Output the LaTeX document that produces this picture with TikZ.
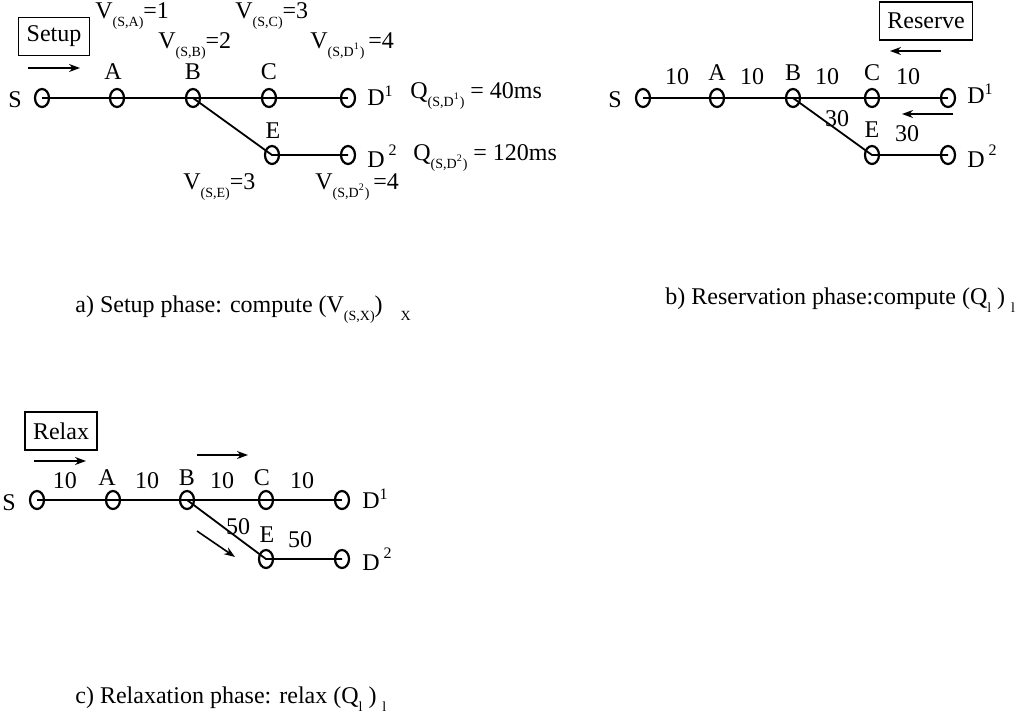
\documentclass[tikz,border=0pt]{standalone}
\usepackage{fontspec}
\setmainfont{Liberation Serif}
\usetikzlibrary{shapes.geometric, arrows.meta, positioning}
\newcommand{\lowidx}[1]{\raisebox{-4pt}{\scriptsize #1}}
\newcommand{\upidx}[1]{\raisebox{6pt}{\footnotesize #1}}

\begin{document}
\begin{tikzpicture}[
    x=0.5pt, y=-0.5pt,
    every node/.style={font=\fontsize{12}{14}\selectfont, inner sep=0pt},
    hop/.style={ellipse, draw, line width=1.1pt, minimum width=7pt, minimum height=9pt},
    phase/.style={draw, line width=0.6pt, inner xsep=4pt, minimum height=19pt},
    link/.style={line width=0.9pt},
    flow/.style={line width=0.8pt, -{Stealth[length=5.5pt, width=4pt]}},
    val/.style={anchor=base west},
    caption/.style={anchor=base west}
]
\useasboundingbox (0,0) rectangle (1029,723);

% a) Setup phase
\node[phase] (setupbox) at (54,36.5) {Setup};
\coordinate (setup0) at (28,68);
\coordinate (setup1) at (80,68);
\draw[flow] (setup0) -- (setup1);

\node (aSl) at (15,100) {S};
\node[hop] (aS) at (42,98) {};
\node[hop] (aA) at (117,98) {};
\node[hop] (aB) at (193,98) {};
\node[hop] (aC) at (269,98) {};
\node[hop] (aD1) at (348,98) {};
\node[hop] (aE) at (272,155) {};
\node[hop] (aD2) at (348,155) {};

\draw[link] (aS.center) -- (aA.center) -- (aB.center) -- (aC.center) -- (aD1.center);
\draw[link] (aB.center) -- (aE.center) -- (aD2.center);

\node (aAl) at (113,72) {A};
\node (aBl) at (193,72) {B};
\node (aCl) at (269,72) {C};
\node (aEl) at (273,131) {E};
\node[val] (aD1l) at (367,105) {D\textsuperscript{1}};
\node[val] (aD2l) at (367,167) {D\,\upidx{2}};

\node[val] (vA) at (95,18) {V\lowidx{(S,A)}=1};
\node[val] (vB) at (158,48) {V\lowidx{(S,B)}=2};
\node[val] (vC) at (235,18) {V\lowidx{(S,C)}=3};
\node[val] (vD1) at (310,48) {V\lowidx{(S,D\textsuperscript{1})}\,=4};
\node[val] (vE) at (183,189) {V\lowidx{(S,E)}=3};
\node[val] (vD2) at (315,189) {V\lowidx{(S,D\textsuperscript{2})}\,=4};

\node[val] (qD1) at (410,98) {Q\lowidx{(S,D\textsuperscript{1})} = 40ms};
\node[val] (qD2) at (413,160) {Q\lowidx{(S,D\textsuperscript{2})} = 120ms};

\node[caption] (capa) at (75,312) {a) Setup phase: compute (V\lowidx{(S,X)})\hspace{9pt}\lowidx{X}};

% b) Reservation phase
\node[phase] (reservebox) at (926,21) {Reserve};
\coordinate (res0) at (941,51);
\coordinate (res1) at (890,51);
\draw[flow] (res0) -- (res1);
\coordinate (res2) at (953,114);
\coordinate (res3) at (902,114);
\draw[flow] (res2) -- (res3);

\node (bSl) at (615,100) {S};
\node[hop] (bS) at (643,98) {};
\node[hop] (bA) at (717,98) {};
\node[hop] (bB) at (793,98) {};
\node[hop] (bC) at (872,98) {};
\node[hop] (bD1) at (948,98) {};
\node[hop] (bE) at (872,155) {};
\node[hop] (bD2) at (948,155) {};

\draw[link] (bS.center) -- (bA.center) -- (bB.center) -- (bC.center) -- (bD1.center);
\draw[link] (bB.center) -- (bE.center) -- (bD2.center);

\node (bAl) at (717,73) {A};
\node (bBl) at (793,73) {B};
\node (bCl) at (872,73) {C};
\node (bEl) at (872,130) {E};
\node (bSA) at (677,77) {10};
\node (bAB) at (752,77) {10};
\node (bBC) at (827,77) {10};
\node (bCD) at (908,77) {10};
\node (bBE) at (837,119) {30};
\node (bED) at (907,134) {30};
\node[val] (bD1l) at (967,103) {D\textsuperscript{1}};
\node[val] (bD2l) at (967,167) {D\,\upidx{2}};

\node[caption] (capb) at (665,304) {b) Reservation phase:compute (Q\lowidx{l}~)~\lowidx{l}};

% c) Relaxation phase
\node[phase] (relaxbox) at (61,431) {Relax};
\coordinate (rel0) at (34,461);
\coordinate (rel1) at (86,461);
\draw[flow] (rel0) -- (rel1);
\coordinate (rel2) at (197,455);
\coordinate (rel3) at (248,455);
\draw[flow] (rel2) -- (rel3);
\coordinate (rel4) at (197,531);
\coordinate (rel5) at (235,557);
\draw[flow] (rel4) -- (rel5);

\node (cSl) at (9,503) {S};
\node[hop] (cS) at (37,500) {};
\node[hop] (cA) at (113,500) {};
\node[hop] (cB) at (187,500) {};
\node[hop] (cC) at (266,500) {};
\node[hop] (cD1) at (342,500) {};
\node[hop] (cE) at (266,559) {};
\node[hop] (cD2) at (342,559) {};

\draw[link] (cS.center) -- (cA.center) -- (cB.center) -- (cC.center) -- (cD1.center);
\draw[link] (cB.center) -- (cE.center) -- (cD2.center);

\node (cAl) at (107,478) {A};
\node (cBl) at (187,478) {B};
\node (cCl) at (262,478) {C};
\node (cEl) at (267,535) {E};
\node (cSA) at (65,481) {10};
\node (cAB) at (147,481) {10};
\node (cBC) at (222,481) {10};
\node (cCD) at (302,481) {10};
\node (cBE) at (238,527) {50};
\node (cED) at (300,540) {50};
\node[val] (cD1l) at (362,508) {D\textsuperscript{1}};
\node[val] (cD2l) at (362,570) {D\,\upidx{2}};

\node[caption] (capc) at (75,703) {c) Relaxation phase: relax (Q\lowidx{l}~)~\lowidx{l}};

\end{tikzpicture}
\end{document}
